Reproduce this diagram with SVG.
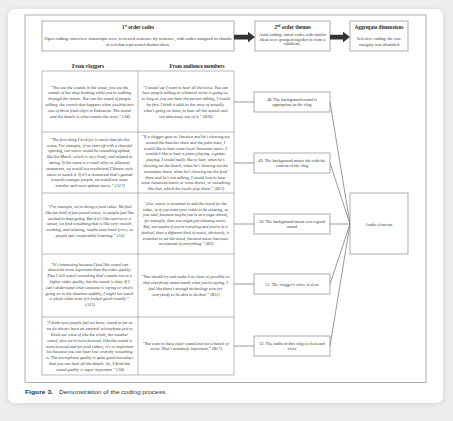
<svg xmlns="http://www.w3.org/2000/svg" width="453" height="421" viewBox="0 0 453 421">
<defs>
<filter id="sh" x="-5%" y="-5%" width="110%" height="110%"><feDropShadow dx="0" dy="1" stdDeviation="3" flood-color="#000" flood-opacity="0.12"/></filter>
<style>
.q{font-family:"Liberation Serif",serif;font-style:italic;font-size:4.3px;fill:#3a3a3a;text-anchor:middle}
.t{font-family:"Liberation Serif",serif;font-size:4.3px;fill:#3a3a3a;text-anchor:middle}
.h{font-family:"Liberation Serif",serif;font-weight:bold;font-size:5.2px;fill:#2a2a2a;text-anchor:middle}
.bx{fill:#fff;stroke:#8a8a8a;stroke-width:0.7}
.ln{fill:none;stroke:#8a8a8a;stroke-width:0.6}
.cn{fill:none;stroke:#555;stroke-width:0.6}
.ar{fill:#333}
.cap{font-family:"Liberation Sans",Arial,sans-serif;font-size:6px;fill:#333}
</style>
</defs>
<rect width="453" height="421" fill="#eeeeee"/>
<rect x="8" y="9" width="435" height="394" rx="7" fill="#fff" filter="url(#sh)"/>
<rect x="25" y="15" width="401" height="367.5" fill="none" stroke="#999" stroke-width="0.8"/>

<g id="first-order">
<rect class="bx" x="42" y="21" width="192" height="30"/>
<text class="h" x="138" y="28.5">1<tspan font-size="3.2px" dy="-1.6">st</tspan><tspan dy="1.6"> order codes</tspan></text>
<text class="t" x="138" y="39.8" textLength="187" lengthAdjust="spacingAndGlyphs">Open coding: interview transcripts were reviewed sentence by sentence, with codes assigned to chunks</text>
<text class="t" x="138" y="45.8">of text that represented distinct ideas.</text>
</g>
<g id="second-order">
<rect class="bx" x="255" y="21" width="75" height="30"/>
<text class="h" x="292.5" y="28.5">2<tspan font-size="3.2px" dy="-1.6">nd</tspan><tspan dy="1.6"> order themes</tspan></text>
<text class="t" x="292.5" y="35.8">Axial coding: initial codes with similar</text>
<text class="t" x="292.5" y="40.5">ideas were grouped together to form a</text>
<text class="t" x="292.5" y="45.2">subtheme.</text>
</g>
<g id="aggregate">
<rect class="bx" x="350" y="21" width="58" height="30"/>
<text class="h" x="379" y="28.5">Aggregate dimensions</text>
<text class="t" x="379" y="40">Selective coding: the core</text>
<text class="t" x="379" y="45.5">category was identified</text>
</g>
<g id="arrows">
<polygon class="ar" points="234,34.8 248,34.8 248,31.8 255,37 248,42.2 248,39.4 234,39.4"/>
<polygon class="ar" points="330,34.8 343,34.8 343,31.8 350,37 343,42.2 343,39.4 330,39.4"/>
</g>

<g id="quote-table">
<text class="h" x="88" y="67.5" font-size="4.6px">From vloggers</text>
<text class="h" x="197" y="67.5" font-size="4.6px">From audience members</text>
<rect class="ln" x="42" y="71" width="192" height="304"/>
<line class="ln" x1="138" y1="71" x2="138" y2="375"/>
<line class="ln" x1="42" y1="132" x2="234" y2="132"/>
<line class="ln" x1="42" y1="193" x2="234" y2="193"/>
<line class="ln" x1="42" y1="254" x2="234" y2="254"/>
<line class="ln" x1="42" y1="317" x2="234" y2="317"/>

<text class="q" x="90" y="88.5">
<tspan x="90" dy="0">“You use the sounds in the street, you use the</tspan>
<tspan x="90" dy="5.8">sounds of the shop honking while you're walking</tspan>
<tspan x="90" dy="5.8">through the streets. You can the sound of people</tspan>
<tspan x="90" dy="5.8">talking, the crunch that happens when you bite into</tspan>
<tspan x="90" dy="5.8">one of those fried chips in Indonesia. The sound</tspan>
<tspan x="90" dy="5.8">and the details is what creates the story.” (A4)</tspan>
</text>
<text class="q" x="186" y="88.5">
<tspan x="186" dy="0">“I would say I want to hear all the noise. You can</tspan>
<tspan x="186" dy="5.8">hear people talking or whatever noise is going on,</tspan>
<tspan x="186" dy="5.8">as long as you can hear the person talking, I would</tspan>
<tspan x="186" dy="5.8">be fine. I think it adds to the story of actually</tspan>
<tspan x="186" dy="5.8">what's going on there, to hear all the sounds and</tspan>
<tspan x="186" dy="5.8">not take away any of it.” (B16)</tspan>
</text>

<text class="q" x="90" y="140.8">
<tspan x="90" dy="0">“The first thing I look for is music that fits the</tspan>
<tspan x="90" dy="5.8">scene. For example, if we start off with a cheerful</tspan>
<tspan x="90" dy="5.8">opening, our music would be something upbeat,</tspan>
<tspan x="90" dy="5.8">like Ice Match, which is very lively, and related to</tspan>
<tspan x="90" dy="5.8">eating. If the scene is a small alley or alleyway</tspan>
<tspan x="90" dy="5.8">restaurant, we would use traditional Chinese style</tspan>
<tspan x="90" dy="5.8">music to match it. If it's a restaurant that's geared</tspan>
<tspan x="90" dy="5.8">towards younger people, we would use some</tspan>
<tspan x="90" dy="5.8">trendier and more upbeat music.” (A17)</tspan>
</text>
<text class="q" x="186" y="137.9">
<tspan x="186" dy="0">“If a vlogger goes to Jamaica and he's showing me</tspan>
<tspan x="186" dy="5.8">around the beaches there and the palm trees, I</tspan>
<tspan x="186" dy="5.8">would like to hear some local Jamaican music. I</tspan>
<tspan x="186" dy="5.8">wouldn't like to hear a piano playing, a guitar</tspan>
<tspan x="186" dy="5.8">playing. I would really like to hear, when he's</tspan>
<tspan x="186" dy="5.8">showing me the beach, when he's showing me the</tspan>
<tspan x="186" dy="5.8">mountains there, when he's showing me the food</tspan>
<tspan x="186" dy="5.8">there and he's not talking, I would love to hear</tspan>
<tspan x="186" dy="5.8">some Jamaican music or some drums, or something</tspan>
<tspan x="186" dy="5.8">like that, which the locals play there.” (B13)</tspan>
</text>

<text class="q" x="90" y="208">
<tspan x="90" dy="0">“For example, we're doing a food video. We find</tspan>
<tspan x="90" dy="5.8">like fun kind of fast paced music, so people feel like</tspan>
<tspan x="90" dy="5.8">excited to keep going. But if it's like sunrise or a</tspan>
<tspan x="90" dy="5.8">sunset, we find something that is like very smooth,</tspan>
<tspan x="90" dy="5.8">soothing, and relaxing, maybe even hand lyrics, so</tspan>
<tspan x="90" dy="5.8">people feel comfortable listening.” (A5)</tspan>
</text>
<text class="q" x="186" y="204.7">
<tspan x="186" dy="0">“also, music is essential to add the mood for the</tspan>
<tspan x="186" dy="5.8">video, so if you want your video to be relaxing, as</tspan>
<tspan x="186" dy="5.8">you said, because maybe you're at a yoga retreat,</tspan>
<tspan x="186" dy="5.8">for example, then you might put relaxing music.</tspan>
<tspan x="186" dy="5.8">But, not maybe if you're traveling and you're at a</tspan>
<tspan x="186" dy="5.8">festival, then a different kind of music, obviously, is</tspan>
<tspan x="186" dy="5.8">essential to set the mood, because music becomes</tspan>
<tspan x="186" dy="5.8">an element of everything.” (B2)</tspan>
</text>

<text class="q" x="90" y="265.5">
<tspan x="90" dy="0">“It's interesting because I feel like sound can</tspan>
<tspan x="90" dy="5.8">almost be more important than the video quality.</tspan>
<tspan x="90" dy="5.8">That I will watch something that's maybe not in a</tspan>
<tspan x="90" dy="5.8">higher video quality, but the sound is okay. If I</tspan>
<tspan x="90" dy="5.8">can't understand what someone is saying or what's</tspan>
<tspan x="90" dy="5.8">going on in the situation audibly, I might not watch</tspan>
<tspan x="90" dy="5.8">a whole video even if it looked good visually.”</tspan>
<tspan x="90" dy="5.8">(A13)</tspan>
</text>
<text class="q" x="186" y="278.3">
<tspan x="186" dy="0">“You should try and make it as clear as possible so</tspan>
<tspan x="186" dy="5.8">that everybody understands what you're saying. I</tspan>
<tspan x="186" dy="5.8">feel like there's enough technology now for</tspan>
<tspan x="186" dy="5.8">everybody to be able to do that.” (B11)</tspan>
</text>

<text class="q" x="90" y="324.3">
<tspan x="90" dy="0">“I think most people feel we know, sound as far as</tspan>
<tspan x="90" dy="5.8">we do always have an external microphone just to</tspan>
<tspan x="90" dy="5.8">block out some of like the winds, the weather</tspan>
<tspan x="90" dy="5.8">sound, also we're more focused. Like the sound is</tspan>
<tspan x="90" dy="5.8">more focused and for food videos, it's so important</tspan>
<tspan x="90" dy="5.8">too because you can hear how crunchy something</tspan>
<tspan x="90" dy="5.8">is. The microphone quality is quite good nowadays</tspan>
<tspan x="90" dy="5.8">that you can hear all the details. So, I think the</tspan>
<tspan x="90" dy="5.8">sound quality is super important.” (A8)</tspan>
</text>
<text class="q" x="186" y="344.6">
<tspan x="186" dy="0">“You want to have clear sound and not a bunch of</tspan>
<tspan x="186" dy="5.8">noise. That's extremely important.” (B17)</tspan>
</text>
</g>

<g id="connectors">
<line class="cn" x1="234" y1="102" x2="254" y2="102"/>
<line class="cn" x1="234" y1="163" x2="254" y2="163"/>
<line class="cn" x1="234" y1="224" x2="254" y2="224"/>
<line class="cn" x1="234" y1="284" x2="254" y2="284"/>
<line class="cn" x1="234" y1="346" x2="254" y2="346"/>
<line class="cn" x1="330" y1="102" x2="350" y2="224"/>
<line class="cn" x1="330" y1="163" x2="350" y2="224"/>
<line class="cn" x1="330" y1="224" x2="350" y2="224"/>
<line class="cn" x1="330" y1="284" x2="350" y2="224"/>
<line class="cn" x1="330" y1="346" x2="350" y2="224"/>
</g>

<g id="theme-48">
<rect class="bx" x="254" y="92" width="76" height="20"/>
<text class="t" x="292" y="100.8">48. The background sound is</text>
<text class="t" x="292" y="106.3">appropriate to the vlog</text>
</g>
<g id="theme-49">
<rect class="bx" x="254" y="153" width="76" height="20"/>
<text class="t" x="292" y="161.8">49. The background music fits with the</text>
<text class="t" x="292" y="167.3">content of the vlog</text>
</g>
<g id="theme-50">
<rect class="bx" x="254" y="214" width="76" height="20"/>
<text class="t" x="292" y="222.8">50. The background music sets a good</text>
<text class="t" x="292" y="228.3">mood</text>
</g>
<g id="theme-51">
<rect class="bx" x="254" y="274" width="76" height="20"/>
<text class="t" x="292" y="285.5">51. The vlogger's voice is clear</text>
</g>
<g id="theme-52">
<rect class="bx" x="254" y="336" width="76" height="20"/>
<text class="t" x="292" y="344.8">52. The audio of this vlog is clean and</text>
<text class="t" x="292" y="350.3">clear</text>
</g>
<g id="audio-elements">
<rect class="bx" x="350" y="193" width="58" height="61"/>
<text class="t" x="379" y="225.8" font-size="5.4px">Audio elements</text>
</g>

<g id="caption">
<text class="cap" x="25" y="394.3" font-weight="bold" textLength="28" lengthAdjust="spacingAndGlyphs">Figure 3.</text>
<text class="cap" x="59" y="394.3" textLength="108" lengthAdjust="spacingAndGlyphs">Demonstration of the coding process.</text>
</g>
</svg>
